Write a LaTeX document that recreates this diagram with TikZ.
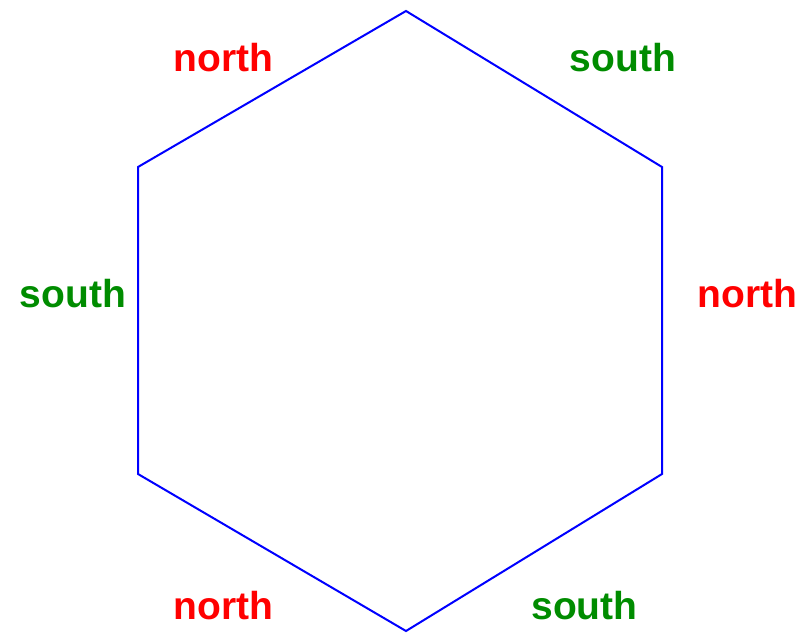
\documentclass[tikz,border=0pt]{standalone}
\usepackage{fontspec}
\setmainfont{Liberation Sans}
\usepackage{xcolor}
\usepackage{tikz}
\usetikzlibrary{positioning}
\definecolor{surverde}{RGB}{0,140,0}
\tikzset{
  hexborde/.style={draw=blue,line width=2pt,line join=miter},
  norte/.style={text=red,font=\fontsize{39}{47}\selectfont\bfseries,anchor=base,inner sep=0pt},
  sur/.style={text=surverde,font=\fontsize{39}{47}\selectfont\bfseries,anchor=base,inner sep=0pt}
}
\begin{document}
\begin{tikzpicture}[x=1pt,y=-1pt]
\useasboundingbox (0,0) rectangle (810,636);
% vertices
\coordinate (vA) at (406,11);
\coordinate (vB) at (662,167);
\coordinate (vC) at (662,474);
\coordinate (vD) at (406,631);
\coordinate (vE) at (138,474);
\coordinate (vF) at (138,167);
\draw[hexborde] (vA)--(vB)--(vC)--(vD)--(vE)--(vF)--cycle;
% labels
\node[norte] (nArriba) at (223.5,72) {north};
\node[sur] (sArriba) at (623,72) {south};
\node[sur] (sIzq) at (73,307) {south};
\node[norte] (nDer) at (747.5,307) {north};
\node[norte] (nAbajo) at (223.5,619) {north};
\node[sur] (sAbajo) at (584.5,619) {south};
\end{tikzpicture}
\end{document}
